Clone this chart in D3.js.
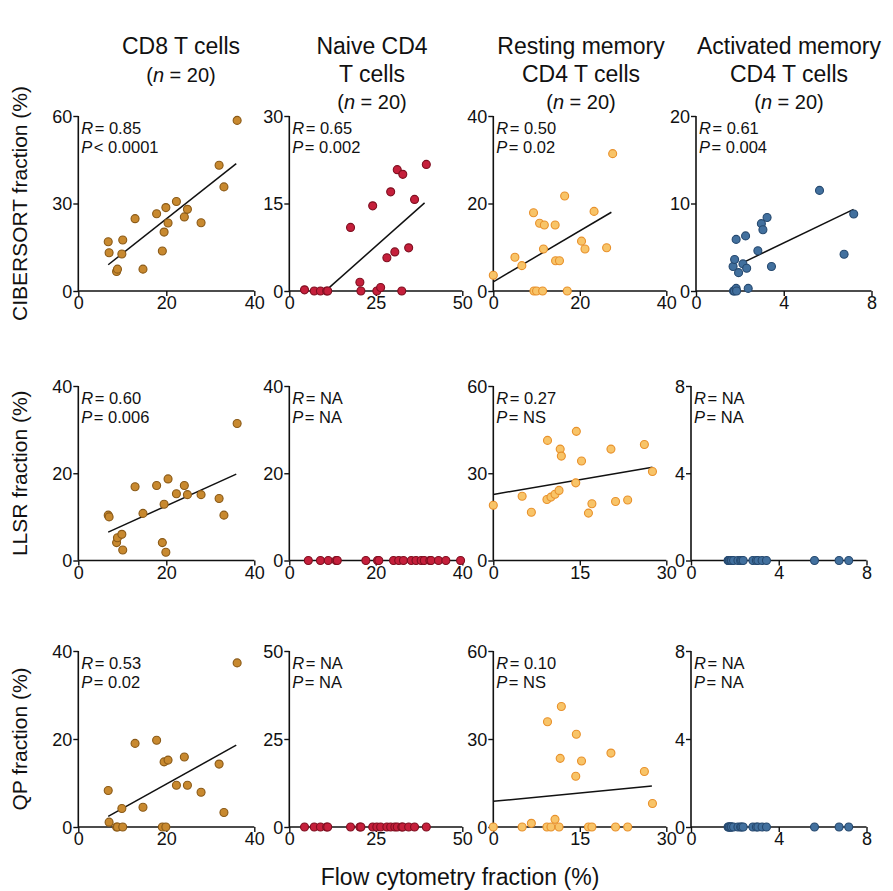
<!DOCTYPE html>
<html><head><meta charset="utf-8">
<script src="https://cdn.jsdelivr.net/npm/d3@7"></script>
<style>
body{margin:0;background:#fff;}
svg{display:block;font-family:"Liberation Sans",Arial,Helvetica,sans-serif;}
</style></head>
<body>
<script>
// ---------- data ----------
const columnTitles = [["CD8 T cells"], ["Naive CD4", "T cells"], ["Resting memory", "CD4 T cells"], ["Activated memory", "CD4 T cells"]];
const methods = ["CIBERSORT", "LLSR", "QP"];
const xAxisTitle = "Flow cytometry fraction (%)";

// flow cytometry fractions (x) per cell type
const flowCD8 = [6.8, 7.0, 8.7, 8.9, 9.9, 10.1, 12.9, 14.7, 17.8, 19.1, 19.5, 19.9, 20.4, 22.3, 24.1, 24.8, 27.9, 32.0, 33.1, 36.1];
const flowNaive = [4.4, 7.2, 9.0, 10.8, 11.1, 17.7, 20.4, 20.7, 24.1, 25.3, 26.4, 28.2, 29.3, 30.5, 31.2, 32.5, 32.8, 34.5, 36.2, 39.6];
const flowResting = [0, 5.0, 6.6, 9.3, 9.4, 10.0, 10.7, 11.4, 11.6, 11.8, 14.3, 14.4, 15.3, 16.5, 17.1, 20.4, 21.2, 23.3, 26.2, 27.6];
const flowActivated = [1.69, 1.71, 1.75, 1.76, 1.83, 1.83, 1.85, 1.94, 2.14, 2.26, 2.31, 2.38, 2.82, 2.98, 3.05, 3.24, 3.44, 5.63, 6.75, 7.19];

// CIBERSORT estimates
const cibersortCD8 = [16.9, 13.1, 6.7, 7.5, 12.7, 17.5, 24.8, 7.5, 26.5, 13.7, 20.2, 28.6, 23.3, 30.7, 25.4, 28.0, 23.4, 43.1, 35.7, 58.5];
const cibersortNaive = [0.2, 0, 0, 0, 0, 10.9, 1.5, 0, 14.6, 0, 0.6, 5.7, 17.0, 6.7, 20.8, 0, 20.0, 7.4, 15.7, 21.7];
const cibersortResting = [3.6, 7.7, 5.8, 17.9, 0, 0, 15.5, 0, 9.6, 15.1, 15.1, 6.9, 6.9, 21.7, 0, 11.4, 9.6, 18.2, 9.9, 31.4];
const cibersortActivated = [2.8, 0, 0, 3.6, 5.9, 0.3, 0, 2.1, 3.1, 6.3, 2.6, 0.3, 4.6, 7.7, 7.0, 8.4, 2.8, 11.5, 4.2, 8.8];

// LLSR estimates
const llsrCD8 = [10.4, 10.0, 4.1, 5.2, 6.0, 2.4, 16.9, 10.8, 17.2, 4.1, 12.9, 1.9, 18.7, 15.3, 17.2, 15.1, 15.1, 14.2, 10.4, 31.4];
const llsrNaive = Array.from(flowNaive, () => 0);
const llsrResting = [19.0, 22.1, 16.6, 21.0, 41.3, 21.8, 22.8, 24.1, 38.3, 35.9, 26.7, 44.4, 34.2, 16.3, 19.5, 38.3, 20.3, 20.8, 39.9, 30.6];
const llsrActivated = Array.from(flowActivated, () => 0);

// QP estimates
const qpCD8 = [8.3, 1.1, 0, 0, 4.2, 0, 19.0, 4.5, 19.7, 0, 14.8, 0, 15.2, 9.5, 15.9, 9.5, 7.9, 14.3, 3.3, 37.3];
const qpNaive = Array.from(flowNaive, () => 0);
const qpResting = [0, 0, 1.25, 0, 35.9, 0, 2.6, 0, 23.4, 41.1, 17.3, 31.6, 22.5, 0, 0, 25.2, 0, 0, 18.9, 8.0];
const qpActivated = Array.from(flowActivated, () => 0);

// axis ticks [row][col]
const xTicks = [
  [[0, 20, 40], [0, 25, 50], [0, 20, 40], [0, 4, 8]],
  [[0, 20, 40], [0, 20, 40], [0, 15, 30], [0, 4, 8]],
  [[0, 20, 40], [0, 25, 50], [0, 15, 30], [0, 4, 8]]
];
const yTicks = [
  [[0, 30, 60], [0, 15, 30], [0, 20, 40], [0, 10, 20]],
  [[0, 20, 40], [0, 20, 40], [0, 30, 60], [0, 4, 8]],
  [[0, 20, 40], [0, 25, 50], [0, 30, 60], [0, 4, 8]]
];
// correlation stats [row][col]
const rValues = [["0.85", "0.65", "0.50", "0.61"], ["0.60", "NA", "0.27", "NA"], ["0.53", "NA", "0.10", "NA"]];
const pValues = [["< 0.0001", "= 0.002", "= 0.02", "= 0.004"], ["= 0.006", "= NA", "= NS", "= NA"], ["= 0.02", "= NA", "= NS", "= NA"]];
// regression lines [x1, y1, x2, y2] (null = none)
const fitLines = [
  [[6.8, 9.0, 35.9, 43.7], [10.8, 0.2, 39.1, 15.1], [0, 2.1, 27.3, 18.0], [2.14, 3.25, 7.18, 9.33]],
  [[6.8, 6.5, 35.9, 19.8], null, [0, 22.7, 27.6, 32.1], null],
  [[6.8, 2.4, 35.9, 18.6], null, [0, 8.75, 27.5, 14.0], null]
];

const flows = [flowCD8, flowNaive, flowResting, flowActivated];
const estimates = [
  [cibersortCD8, cibersortNaive, cibersortResting, cibersortActivated],
  [llsrCD8, llsrNaive, llsrResting, llsrActivated],
  [qpCD8, qpNaive, qpResting, qpActivated]
];
const fills = ["#c8892f", "#c51f3b", "#f8c468", "#42709e"];
const strokes = ["#8a5a18", "#7e0f20", "#e8912c", "#26496f"];

// ---------- layout ----------
const W = 893, H = 891;
const colLeft = [78.3, 289.3, 493.3, 691];
const colWidth = [176, 173, 173, 175.5];
const rowTop = [116, 386, 651];
const rowHeight = [175, 174.5, 176];
const titleCenter = [181, 372, 581, 789];

const svg = d3.select("body").append("svg").attr("width", W).attr("height", H);

// column titles
columnTitles.forEach((lines, c) => {
  const all = lines.concat(["__n"]);
  all.forEach((t, i) => {
    const txt = svg.append("text").attr("x", titleCenter[c]).attr("y", 54 + i * 27.5)
      .attr("text-anchor", "middle").attr("font-size", i === lines.length ? 20 : 23).attr("fill", "#111");
    if (t === "__n") {
      txt.append("tspan").text("(");
      txt.append("tspan").attr("font-style", "italic").text("n");
      txt.append("tspan").text(" = 20)");
    } else txt.text(t);
  });
});

// y titles
methods.forEach((m, r) => {
  const cy = rowTop[r] + rowHeight[r] / 2;
  svg.append("text").attr("transform", `translate(27,${cy}) rotate(-90)`)
    .attr("text-anchor", "middle").attr("font-size", 21).attr("fill", "#111")
    .text(m + " fraction (%)");
});
// x title
svg.append("text").attr("x", 460).attr("y", 885).attr("text-anchor", "middle")
  .attr("font-size", 23).attr("fill", "#111").text(xAxisTitle);

for (let r = 0; r < 3; r++) {
  for (let c = 0; c < 4; c++) {
    const left = colLeft[c] + (r === 0 && c === 3 ? 5 : 0);
    const top = rowTop[r];
    const w = colWidth[c], h = rowHeight[r];
    const xt = xTicks[r][c], yt = yTicks[r][c];
    const x = d3.scaleLinear().domain([0, xt[xt.length - 1]]).range([0, w]);
    const y = d3.scaleLinear().domain([0, yt[yt.length - 1]]).range([h, 0]);
    const g = svg.append("g").attr("transform", `translate(${left},${top})`);

    const xa = g.append("g").attr("transform", `translate(0,${h})`)
      .call(d3.axisBottom(x).tickValues(xt).tickSize(5).tickPadding(2).tickFormat(d3.format("d")));
    const ya = g.append("g")
      .call(d3.axisLeft(y).tickValues(yt).tickSize(5).tickPadding(1).tickFormat(d3.format("d")));
    [xa, ya].forEach(a => {
      a.select(".domain").attr("stroke", "#111").attr("stroke-width", 1.6);
      a.selectAll(".tick line").attr("stroke", "#111").attr("stroke-width", 1.4);
      a.selectAll(".tick text").attr("font-size", 18).attr("fill", "#111")
        .attr("font-family", '"Liberation Sans",Arial,sans-serif');
    });
    xa.select(".domain").attr("d", `M0,0H${w}`);
    ya.select(".domain").attr("d", `M0,${h}V0`);
    xa.selectAll(".tick text").attr("dy", "0.62em");
    ya.selectAll(".tick text").attr("dy", "0.36em");

    // stats text
    const t1 = g.append("text").attr("x", 3).attr("y", 18).attr("font-size", 16.5).attr("fill", "#111");
    t1.append("tspan").attr("font-style", "italic").text("R");
    t1.append("tspan").attr("dx", 1.5).text("= " + rValues[r][c]);
    const t2 = g.append("text").attr("x", 3).attr("y", 36.6).attr("font-size", 16.5).attr("fill", "#111");
    t2.append("tspan").attr("font-style", "italic").text("P");
    t2.append("tspan").attr("dx", 1.5).text(pValues[r][c]);

    // fit line
    const fl = fitLines[r][c];
    if (fl) {
      g.append("line").attr("x1", x(fl[0])).attr("y1", y(fl[1])).attr("x2", x(fl[2])).attr("y2", y(fl[3]))
        .attr("stroke", "#111").attr("stroke-width", 1.5);
    }

    // points
    const pts = flows[c].map((fx, i) => ({ fx, fy: estimates[r][c][i] }));
    g.selectAll("circle.pt").data(pts).enter().append("circle").attr("class", "pt")
      .attr("cx", d => x(d.fx)).attr("cy", d => y(d.fy)).attr("r", 4)
      .attr("fill", fills[c]).attr("stroke", strokes[c]).attr("stroke-width", 1.1);
  }
}
</script>
</body></html>
